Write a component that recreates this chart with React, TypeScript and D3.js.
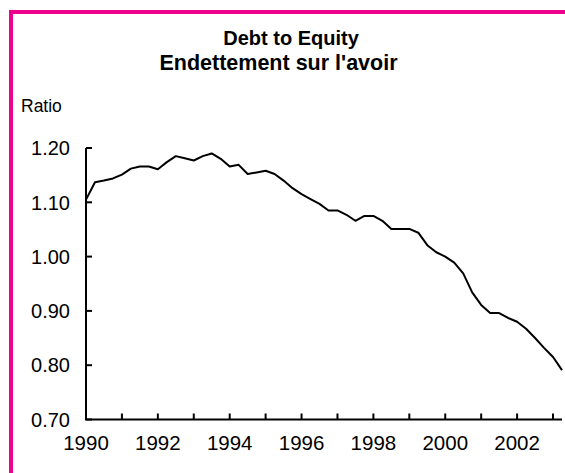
import React from "react";
import * as d3 from "d3";

const W = 565;
const H = 473;

// Quarterly observations, 1990Q1 .. 2003Q2
const startYear = 1990;
const ratio: number[] = [
  1.105, 1.137, 1.14, 1.144, 1.151, 1.162, 1.166, 1.166,
  1.161, 1.174, 1.185, 1.181, 1.177, 1.185, 1.19, 1.18,
  1.166, 1.169, 1.152, 1.155, 1.158, 1.152, 1.14, 1.126,
  1.115, 1.106, 1.097, 1.085, 1.085, 1.077, 1.066, 1.075,
  1.075, 1.066, 1.051, 1.051, 1.051, 1.044, 1.021, 1.008,
  1.0, 0.989, 0.969, 0.934, 0.911, 0.896, 0.896, 0.887,
  0.88, 0.867, 0.85, 0.832, 0.815, 0.791,
];
const yTicks: number[] = [0.7, 0.8, 0.9, 1.0, 1.1, 1.2];
const xTickYears: number[] = d3.range(1990, 2004);
const xLabelYears: number[] = [1990, 1992, 1994, 1996, 1998, 2000, 2002];
const titleLines: string[] = ["Debt to Equity", "Endettement sur l'avoir"];
const yAxisTitle = "Ratio";

const FONT = "Arial, 'Liberation Sans', Helvetica, sans-serif";

export default function App() {
  const x = d3.scaleLinear().domain([1990, 2003.25]).range([86, 562]);
  const y = d3.scaleLinear().domain([0.7, 1.2]).range([419.5, 148]);
  const pts = ratio.map((v, i) => [startYear + i * 0.25, v] as [number, number]);
  const line = d3
    .line<[number, number]>()
    .x((d) => x(d[0]))
    .y((d) => y(d[1]));

  return (
    <svg
      width={W}
      height={H}
      style={{ position: "absolute", left: 0, top: 0, background: "#fff" }}
      fontFamily={FONT}
    >
      <rect x={0} y={0} width={W} height={H} fill="#fff" />
      <rect
        x={11}
        y={12}
        width={W + 20}
        height={H + 20}
        fill="none"
        stroke="#ec008c"
        strokeWidth={4}
      />
      <text x={291} y={45} textAnchor="middle" fontWeight="bold" fontSize={20}>
        {titleLines[0]}
      </text>
      <text x={278.5} y={70} textAnchor="middle" fontWeight="bold" fontSize={21.5}>
        {titleLines[1]}
      </text>
      <text x={21} y={112} fontSize={17.5}>
        {yAxisTitle}
      </text>
      {/* y axis */}
      <line x1={86} x2={86} y1={y(1.2)} y2={y(0.7)} stroke="#000" strokeWidth={2} />
      {yTicks.map((t) => (
        <g key={t}>
          <line x1={86} x2={92} y1={y(t)} y2={y(t)} stroke="#000" strokeWidth={2} />
          <text x={70} y={y(t)} dy="0.36em" textAnchor="end" fontSize={20}>
            {d3.format(".2f")(t)}
          </text>
        </g>
      ))}
      {/* x axis */}
      <line x1={85} x2={562} y1={y(0.7)} y2={y(0.7)} stroke="#000" strokeWidth={2} />
      {xTickYears.map((t) => (
        <line key={t} x1={x(t)} x2={x(t)} y1={y(0.7)} y2={y(0.7) - 6} stroke="#000" strokeWidth={2} />
      ))}
      {xLabelYears.map((t) => (
        <text key={t} x={x(t)} y={450} textAnchor="middle" fontSize={20.5}>
          {t}
        </text>
      ))}
      <path d={line(pts) || ""} fill="none" stroke="#000" strokeWidth={2} strokeLinejoin="round" />
    </svg>
  );
}
